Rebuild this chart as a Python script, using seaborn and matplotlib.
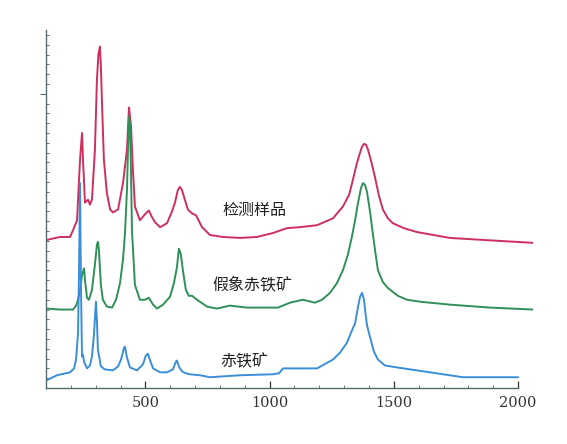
# plot.py
# Raman spectra of the sample, pseudomorphic hematite and hematite (stacked traces)

import pandas as pd
import seaborn as sns
import matplotlib
import matplotlib.pyplot as plt
from matplotlib.ticker import MultipleLocator, FixedLocator
matplotlib.use('Agg')

# ---- data (wavenumber cm-1, stacked intensity) ----
sample_x = [104, 156, 197, 209, 225, 229, 237, 245, 249, 257, 269, 277, 285, 297, 305, 311, 317,
            321, 325, 333, 345, 358, 370, 390, 410, 426, 434, 442, 450, 458, 478, 498, 514, 527,
            539, 559, 587, 607, 619, 631, 639, 647, 659, 671, 688, 704, 728, 760, 812, 881,
            949, 1013, 1070, 1122, 1191, 1255, 1295, 1320, 1335, 1350, 1364, 1372, 1380, 1388,
            1396, 1410, 1424, 1440, 1456, 1476, 1496, 1540, 1593, 1726, 1858, 2060]
sample_y = [15.1, 15.4, 15.4, 16.1, 17.1, 19.2, 23.3, 26.0, 23.3, 18.9, 19.2, 18.7, 19.2,
            24.3, 31.4, 34.0, 34.8, 32.8, 29.4, 23.3, 19.9, 18.2, 17.9, 18.2, 20.9, 24.3, 28.6,
            26.8, 22.2, 18.5, 17.1, 17.7, 18.1, 17.4, 16.9, 16.4, 16.8, 18.0, 18.9, 20.2, 20.5,
            20.2, 19.2, 18.2, 17.8, 17.6, 16.4, 15.6, 15.4, 15.3, 15.4, 15.8, 16.3, 16.4,
            16.6, 17.3, 18.5, 19.7, 21.2, 22.8, 24.0, 24.6, 24.9, 24.8, 24.3, 23.0, 21.5, 19.6,
            18.2, 17.3, 16.8, 16.3, 15.9, 15.3, 15.1, 14.8]

pseudo_x = [104, 156, 209, 221, 229, 237, 245, 253, 257, 265, 273, 285, 297, 305, 309, 313,
            321, 329, 345, 366, 382, 398, 410, 418, 426, 430, 434, 438, 442, 446, 458, 478,
            498, 514, 531, 547, 571, 599, 615, 627, 635, 643, 651, 663, 675, 688, 708, 748,
            788, 840, 909, 973, 1034, 1082, 1134, 1182, 1211, 1243, 1271, 1295, 1315, 1331,
            1344, 1356, 1368, 1376, 1384, 1392, 1404, 1412, 1424, 1436, 1456, 1476, 1516,
            1553, 1605, 1726, 1887, 2060]
pseudo_y = [8.1, 8.0, 8.0, 8.4, 9.0, 10.0, 11.5, 12.2, 11.0, 9.2, 9.0, 10.0, 12.6, 14.6,
            14.9, 14.1, 10.5, 9.0, 8.3, 8.2, 9.0, 10.7, 13.1, 15.8, 20.2, 24.3, 27.7, 26.9,
            22.2, 16.1, 10.5, 9.0, 9.0, 9.2, 8.5, 8.1, 8.5, 9.3, 10.7, 12.3, 14.2, 13.6,
            12.0, 10.0, 9.4, 9.4, 9.0, 8.3, 8.1, 8.4, 8.2, 8.2, 8.2, 8.7, 9.0, 8.7, 9.0,
            9.7, 10.7, 12.0, 13.6, 15.4, 17.1, 18.9, 20.4, 20.9, 20.7, 20.0, 18.0, 16.4,
            14.1, 12.0, 10.8, 10.2, 9.4, 9.0, 8.8, 8.5, 8.2, 8.0]

hematite_x = [104, 144, 197, 213, 221, 229, 233, 237, 241, 245, 249, 253, 265, 277, 285,
              293, 301, 305, 309, 321, 337, 370, 390, 402, 414, 418, 426, 438, 466, 490,
              502, 510, 518, 531, 559, 587, 611, 623, 627, 635, 647, 663, 679, 720, 760,
              881, 1013, 1038, 1054, 1110, 1162, 1191, 1255, 1283, 1311, 1327, 1344, 1356,
              1364, 1372, 1380, 1384, 1392, 1404, 1420, 1436, 1464, 1512, 1645, 1778, 2000]
hematite_y = [0.8, 1.3, 1.6, 2.0, 2.9, 5.6, 12.0, 20.9, 10.0, 3.2, 3.4, 2.7, 2.0, 2.3, 3.2,
              5.4, 8.8, 6.9, 3.9, 2.2, 1.9, 1.8, 2.2, 2.9, 4.1, 4.2, 3.1, 2.1, 1.8, 2.4, 3.3,
              3.5, 2.9, 2.0, 1.6, 1.6, 1.9, 2.7, 2.8, 2.2, 1.7, 1.5, 1.4, 1.3, 1.1, 1.3, 1.4,
              1.5, 2.0, 2.0, 2.0, 2.0, 2.9, 3.6, 4.6, 5.6, 6.6, 8.3, 9.3, 9.7, 9.0, 8.0, 6.4,
              5.2, 3.7, 2.9, 2.3, 2.1, 1.6, 1.1, 1.1]

labels = ["检测样品", "假象赤铁矿", "赤铁矿"]
label_x = [941, 929, 897]
label_y = [18.1, 10.5, 2.65]
colors = ["#cf2f5e", "#2f9058", "#3b8ed8"]

x_ticks = [500, 1000, 1500, 2000]

# ----------------------------------------------------------------
sns.set_style("white")
plt.rcParams['font.family'] = ['Noto Sans CJK SC', 'DejaVu Sans']

fig = plt.figure(figsize=(5.67, 4.44), dpi=100)
ax = fig.add_axes([0.0811, 0.1261, 0.8589, 0.8063])

series = [(sample_x, sample_y), (pseudo_x, pseudo_y), (hematite_x, hematite_y)]
for (xs, ys), name, col in zip(series, labels, colors):
    df = pd.DataFrame({"wn": xs, "I": ys})
    sns.lineplot(data=df, x="wn", y="I", color=col, linewidth=1.4, ax=ax, sort=False)

for name, lx, ly in zip(labels, label_x, label_y):
    ax.text(lx, ly, name, ha="center", va="center", fontsize=11.5, color="#222222")

ax.set_xlim(100, 2060)
ax.set_ylim(0, 36.5)
ax.set_xlabel("")
ax.set_ylabel("")

ax.spines['top'].set_visible(False)
ax.spines['right'].set_visible(False)
for s in ['left', 'bottom']:
    ax.spines[s].set_color("#556b6b")
    ax.spines[s].set_linewidth(1.0)
ax.spines['bottom'].set_bounds(100, 2000)

ax.xaxis.set_major_locator(FixedLocator(x_ticks))
ax.xaxis.set_minor_locator(MultipleLocator(100))
ax.yaxis.set_major_locator(FixedLocator([30]))
ax.yaxis.set_minor_locator(MultipleLocator(1))
ax.set_yticklabels([])
ax.tick_params(which='both', bottom=True, left=True, top=False, right=False)
ax.tick_params(axis='x', which='major', direction='in', length=5, width=0.9,
               colors="#333333", labelsize=10.5, pad=6)
ax.tick_params(axis='x', which='minor', direction='in', length=2, width=0.7, colors="#777777")
ax.tick_params(axis='y', which='major', direction='out', length=4, width=0.8, colors="#556b6b")
ax.tick_params(axis='y', which='minor', direction='in', length=2.5, width=0.7, colors="#556b6b")
for lab in ax.get_xticklabels():
    lab.set_fontfamily(['DejaVu Serif'])
    lab.set_color("#333333")

fig.savefig("out.png", dpi=100)
plt.close(fig)
